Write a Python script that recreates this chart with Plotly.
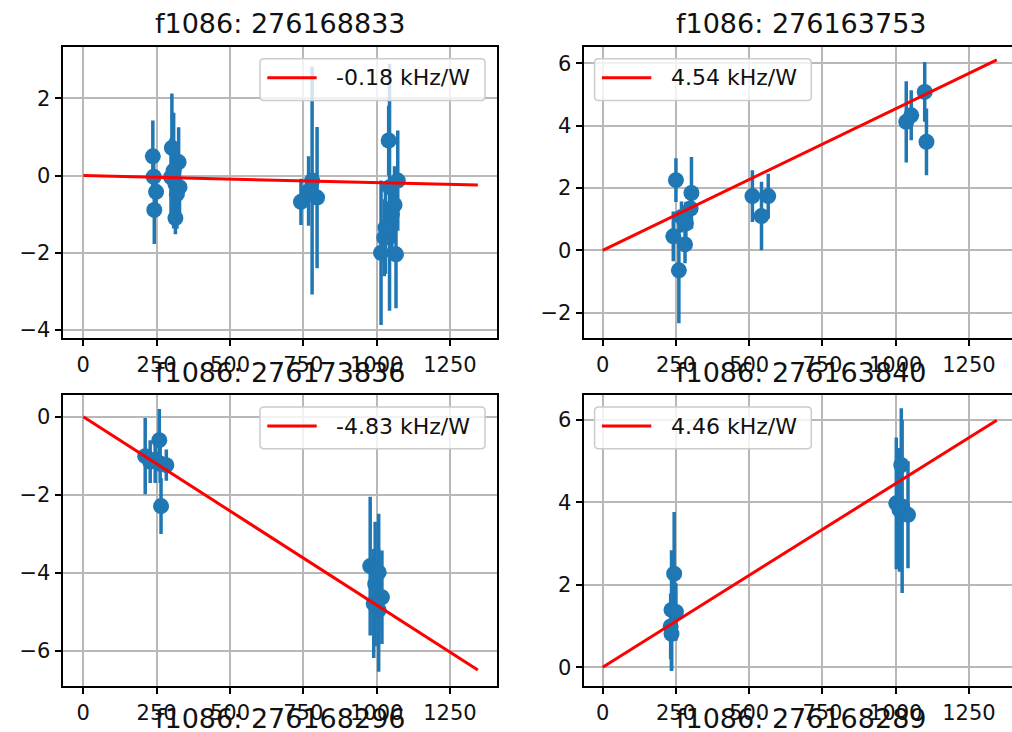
import plotly.graph_objects as go

# ---------------------------------------------------------------- data
TITLES = ["f1086: 276168833", "f1086: 276163753", "f1086: 276173836", "f1086: 276163840"]
NEXT_ROW_TITLES = ["f1086: 276168296", "f1086: 276168289"]

# fitted slopes in kHz/W (x is given in mW)
SLOPES = [-0.18, 4.54, -4.83, 4.46]
FIT_X = [0, 1345]

P1_X = [237, 240, 248, 242, 302, 325, 299, 314, 328, 319, 314, 308,
        742, 780, 797, 768, 1041, 1072, 1061, 1052, 1015, 1066, 1026, 1044, 1030]
P1_Y = [0.50, -0.03, -0.42, -0.89, 0.72, 0.35, -0.04, -0.22, -0.30, -0.48, -1.10, 0.13,
        -0.68, -0.13, -0.57, -0.40, 0.91, -0.13, -0.76, -1.00, -2.00, -2.04, -1.61, -0.30, -1.35]
P1_ERR = [0.93, 0.50, 0.55, 0.88, 1.41, 0.90, 1.00, 1.05, 0.80, 0.90, 0.42, 1.50,
          0.60, 2.95, 1.83, 0.90, 0.90, 1.30, 1.00, 0.90, 1.87, 1.40, 1.00, 3.20, 1.20]

P2_X = [250, 303, 300, 284, 241, 281, 260, 269, 511, 542, 565, 1036, 1053, 1099, 1105]
P2_Y = [2.25, 1.84, 1.34, 0.86, 0.45, 0.19, -0.64, 1.07, 1.74, 1.10, 1.74, 4.12, 4.33, 5.08, 3.48]
P2_ERR = [0.70, 1.15, 0.60, 0.70, 0.80, 0.60, 1.70, 0.50, 0.83, 1.10, 0.72, 1.30, 0.80, 0.96, 1.07]

P3_X = [211, 228, 259, 262, 283, 265, 245, 978, 1007, 995, 1018, 1007, 990]
P3_Y = [-1.01, -1.15, -0.60, -1.20, -1.24, -2.29, -1.10, -3.83, -3.99, -4.29, -4.63, -4.96, -4.79]
P3_ERR = [0.98, 0.55, 0.80, 0.50, 0.40, 0.72, 0.60, 1.78, 1.50, 1.60, 1.20, 1.58, 1.40]

P4_X = [244, 235, 250, 232, 235, 1019, 1002, 1013, 1042, 1022]
P4_Y = [2.27, 1.39, 1.34, 0.99, 0.81, 4.91, 3.98, 3.82, 3.70, 3.90]
P4_ERR = [1.50, 1.45, 0.70, 0.80, 0.90, 1.38, 1.60, 1.50, 1.30, 2.10]

PANELS = [(P1_X, P1_Y, P1_ERR), (P2_X, P2_Y, P2_ERR), (P3_X, P3_Y, P3_ERR), (P4_X, P4_Y, P4_ERR)]

# ---------------------------------------------------------------- layout geometry (pixels)
W, H = 1012, 732
COLS = [  # left px, right px, x range
    (63.3, 496.7, (-68.2, 1409.3)),
    (584.3, 1012.0, (-62.7, 1396.9)),
]
ROWS = [(46.7, 337.7), (395.0, 685.7)]  # top px, bottom px
Y_RANGES = [(-4.20, 3.34), (-2.80, 6.53), (-6.90, 0.56), (-0.45, 6.61)]
LEGEND_SIDE = ["right", "left", "right", "left"]
TITLE_CENTERS_X = [280.0, 801.0]
TITLE_ROWS_Y = [23.3, 373.0]
NEXT_ROW_TITLE_Y = 718.0

BLUE = "#1f77b4"
FONT = "DejaVu Sans"
TICK_SIZE = 21
TITLE_SIZE = 27
LEGEND_SIZE = 22

# DejaVu Sans advance widths (em) for legend box sizing
CHAR_EM = {"-": 0.361, ".": 0.318, " ": 0.318, "k": 0.579, "H": 0.752, "z": 0.525,
           "/": 0.337, "W": 0.989}


def px_x(p):
    return p / W


def px_y(p):
    return 1 - p / H


def text_width(s, size):
    return sum(CHAR_EM.get(c, 0.636) for c in s) * size


def rounded_path(x0, y0, x1, y1, r):
    pts = [
        ("M", (x0 + r, y0)), ("L", (x1 - r, y0)), ("Q", (x1, y0), (x1, y0 + r)),
        ("L", (x1, y1 - r)), ("Q", (x1, y1), (x1 - r, y1)), ("L", (x0 + r, y1)),
        ("Q", (x0, y1), (x0, y1 - r)), ("L", (x0, y0 + r)), ("Q", (x0, y0), (x0 + r, y0)),
    ]
    out = []
    for cmd, *coords in pts:
        out.append(cmd + " " + " ".join(f"{px_x(a):.5f},{px_y(b):.5f}" for a, b in coords))
    return " ".join(out) + " Z"


fig = go.Figure()
shapes = []
annotations = []

for i, (xs, ys, errs) in enumerate(PANELS):
    row, col = divmod(i, 2)
    left, right, xr = COLS[col]
    top, bottom = ROWS[row]
    sfx = "" if i == 0 else str(i + 1)
    xa, ya = "x" + sfx, "y" + sfx

    fig.add_trace(go.Scatter(
        x=xs, y=ys, mode="markers", xaxis=xa, yaxis=ya, showlegend=False,
        marker=dict(color=BLUE, size=16, line=dict(width=0)),
        error_y=dict(type="data", array=errs, visible=True, color=BLUE, thickness=3.5, width=0),
    ))
    label = f"{SLOPES[i]:.2f} kHz/W"
    fig.add_trace(go.Scatter(
        x=FIT_X, y=[SLOPES[i] * v / 1000 for v in FIT_X], mode="lines",
        xaxis=xa, yaxis=ya, name=label, showlegend=False,
        line=dict(color="red", width=3),
    ))

    axis_common = dict(
        showline=True, linecolor="#000", linewidth=1.5,
        ticks="outside", ticklen=7, tickwidth=1.5, tickcolor="#000",
        showgrid=True, gridcolor="#b8b8b8", gridwidth=1.5,
        zeroline=False, automargin=False,
        tickfont=dict(family=FONT, size=TICK_SIZE, color="#111"),
    )
    fig.layout["xaxis" + sfx] = dict(
        axis_common, domain=[px_x(left), px_x(right)], range=list(xr),
        tick0=0, dtick=250, mirror=True, anchor=ya,
    )
    fig.layout["yaxis" + sfx] = dict(
        axis_common, domain=[px_y(bottom), px_y(top)], range=list(Y_RANGES[i]),
        tick0=0, dtick=2, mirror=(col == 0), anchor=xa,
    )

    # subplot title
    annotations.append(dict(
        text=TITLES[i], xref="paper", yref="paper",
        x=px_x(TITLE_CENTERS_X[col]), y=px_y(TITLE_ROWS_Y[row]),
        xanchor="center", yanchor="middle", showarrow=False,
        font=dict(family=FONT, size=TITLE_SIZE, color="#111"),
    ))

    # legend box with the fit line sample
    box_w = 74 + text_width(label, 23) + 11
    box_h = 41.7
    if LEGEND_SIDE[i] == "right":
        bx1 = right - 11.7
        bx0 = bx1 - box_w
    else:
        bx0 = left + 10.3
        bx1 = bx0 + box_w
    by0 = top + 12.0
    by1 = by0 + box_h
    ly = by0 + 19.0
    shapes.append(dict(
        type="path", xref="paper", yref="paper", layer="above",
        path=rounded_path(bx0, by0, bx1, by1, 4),
        fillcolor="rgba(255,255,255,0.8)", line=dict(color="#cccccc", width=1.5),
    ))
    shapes.append(dict(
        type="line", xref="paper", yref="paper", layer="above",
        x0=px_x(bx0 + 7.3), x1=px_x(bx0 + 56.7), y0=px_y(ly), y1=px_y(ly),
        line=dict(color="red", width=3),
    ))
    annotations.append(dict(
        text=label, xref="paper", yref="paper",
        x=px_x(bx0 + 74), y=px_y(ly), xanchor="left", yanchor="middle",
        showarrow=False, font=dict(family=FONT, size=LEGEND_SIZE, color="#111"),
    ))

# titles of the following row of subplots
for col, t in enumerate(NEXT_ROW_TITLES):
    annotations.append(dict(
        text=t, xref="paper", yref="paper",
        x=px_x(TITLE_CENTERS_X[col]), y=px_y(NEXT_ROW_TITLE_Y),
        xanchor="center", yanchor="middle", showarrow=False,
        font=dict(family=FONT, size=TITLE_SIZE, color="#111"),
    ))

fig.update_layout(
    template="none",
    width=W, height=H,
    margin=dict(l=0, r=0, t=0, b=0),
    paper_bgcolor="white", plot_bgcolor="white",
    shapes=shapes, annotations=annotations,
    showlegend=False,
)

fig.write_html("out.html")
